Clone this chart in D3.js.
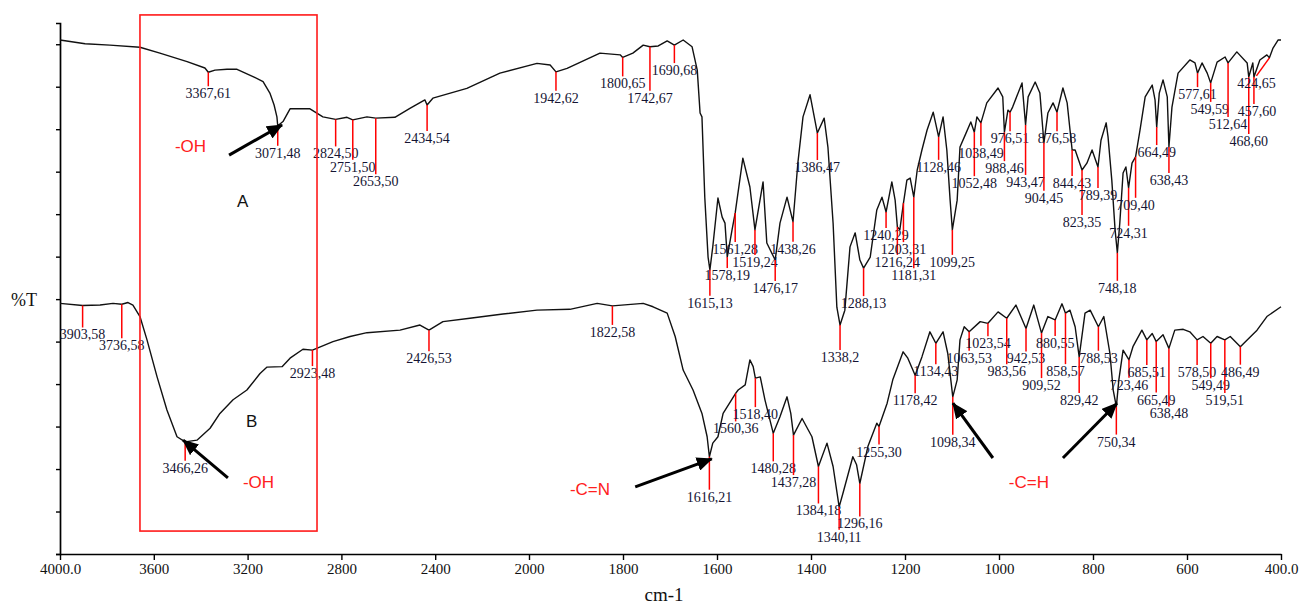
<html>
<head>
<meta charset="utf-8">
<style>
  body { margin: 0; background: #fff; }
  svg text { font-family: "Liberation Serif", "Times New Roman", serif; }
</style>
</head>
<body>
<script src="https://d3js.org/d3.v7.min.js"></script>
<div id="chart"></div>
<script>

// spectrum A : wavenumber (cm-1) and %T readings
var wavenumA = [4000, 3893, 3787, 3659, 3574, 3458, 3382, 3367.61, 3339, 3288,
  3245, 3177, 3134, 3105, 3087, 3075, 3071.48, 3049, 3019, 2934,
  2879, 2824.5, 2776, 2751.5, 2691, 2653.5, 2572, 2508, 2444, 2434.54,
  2410, 2265, 2124, 1983, 1955, 1942.62, 1919, 1849, 1806, 1800.65,
  1779, 1757, 1742.67, 1725, 1706, 1690.68, 1672, 1653, 1642, 1636,
  1632, 1626, 1619, 1615.13, 1609, 1598, 1589, 1583, 1578.19, 1568,
  1561.28, 1545, 1530, 1519.24, 1502, 1494, 1476.17, 1466, 1451, 1438.26,
  1428, 1417, 1402, 1386.47, 1372, 1364, 1353, 1345, 1338.2, 1328,
  1317, 1306, 1296, 1288.13, 1274, 1260, 1249, 1240.29, 1228, 1221,
  1216.24, 1211, 1203.31, 1196, 1189, 1181.31, 1174, 1164, 1153, 1140,
  1128.46, 1119, 1111, 1104, 1099.25, 1089, 1083, 1072, 1060, 1052.48,
  1047, 1038.49, 1026, 1002, 992, 988.46, 981, 976.51, 971, 951,
  943.47, 938, 923, 913, 904.45, 896, 885, 876.58, 864, 855,
  844.43, 838, 823.35, 813, 802, 789.39, 783, 772, 768, 760,
  753, 748.18, 743, 736, 730, 724.31, 717, 709.4, 700, 689,
  674, 668, 664.49, 659, 651, 642, 638.43, 632, 619, 594,
  583, 577.61, 568, 557, 549.59, 536, 519, 512.64, 494, 472,
  468.6, 460, 457.6, 445, 430, 424.65, 417, 406, 400];
var transA = [121.0, 120.1, 119.8, 119.3, 117.9, 115.9, 114.4, 113.4, 113.9, 114.1,
  114.1, 112.4, 111.2, 108.5, 105.7, 102.9, 100.8, 101.8, 104.8, 104.8,
  102.9, 102.3, 102.8, 102.2, 102.9, 102.6, 102.8, 104.9, 106.9, 105.7,
  107.3, 109.6, 113.2, 115.5, 115.1, 113.5, 114.3, 117.9, 117.5, 116.9,
  117.9, 119.8, 119.4, 119.6, 120.8, 119.8, 121.0, 119.4, 113.9, 103.8,
  102.9, 84.0, 69.9, 66.9, 72.3, 83.8, 79.3, 77.9, 69.9, 76.3,
  80.3, 93.2, 86.4, 76.3, 87.6, 73.2, 69.2, 77.9, 84.0, 78.2,
  92.0, 102.9, 108.1, 99.1, 102.6, 95.8, 77.9, 58.1, 53.9, 57.4,
  72.3, 75.6, 69.2, 67.3, 69.9, 81.0, 84.0, 80.5, 87.6, 83.3,
  77.0, 76.3, 82.6, 88.0, 88.5, 84.0, 90.4, 95.1, 99.8, 104.0,
  98.2, 102.9, 95.1, 83.3, 76.3, 83.3, 95.8, 98.6, 101.7, 99.3,
  102.9, 101.5, 106.2, 109.7, 107.6, 99.3, 104.5, 104.0, 105.2, 110.9,
  101.0, 107.6, 111.1, 108.5, 96.8, 103.8, 106.2, 104.0, 109.7, 106.2,
  95.1, 95.1, 90.4, 92.0, 95.1, 91.1, 97.4, 101.5, 98.2, 88.0,
  76.3, 70.9, 77.9, 89.7, 91.1, 86.2, 92.0, 93.5, 99.8, 107.6,
  110.4, 106.9, 100.5, 108.5, 111.6, 107.6, 95.8, 105.2, 113.2, 116.3,
  115.6, 113.2, 115.6, 113.2, 110.9, 115.8, 117.0, 115.6, 118.2, 115.6,
  112.3, 115.6, 112.3, 116.3, 117.5, 116.8, 119.1, 121.0, 121.0];

// spectrum B
var wavenumB = [4000, 3903.58, 3829, 3774, 3736.58, 3710, 3689, 3659, 3629, 3586,
  3544, 3501, 3466.26, 3416, 3360, 3318, 3262, 3203, 3147, 3117,
  3053, 3019, 2964, 2923.48, 2836, 2763, 2691, 2550, 2465, 2426.53,
  2367, 2252, 2111, 1983, 1913, 1855, 1822.58, 1757, 1736, 1706,
  1689, 1672, 1651, 1632, 1621, 1616.21, 1609, 1598, 1587, 1560.36,
  1555, 1540, 1530, 1523, 1518.4, 1508, 1498, 1480.28, 1466, 1451,
  1443, 1437.28, 1419, 1398, 1384.18, 1366, 1353, 1340.11, 1332, 1311,
  1303, 1296.16, 1279, 1260, 1255.3, 1238, 1226, 1204, 1194, 1178.42,
  1164, 1147, 1134.43, 1119, 1109, 1098.34, 1089, 1083, 1074, 1063.53,
  1040, 1023.54, 1002, 983.56, 964, 942.53, 926, 909.52, 896, 880.55,
  866, 858.57, 849, 838, 829.42, 817, 806, 788.53, 777, 764,
  757, 750.34, 745, 736, 723.46, 715, 696, 685.51, 674, 665.49,
  651, 638.48, 626, 608, 594, 578.5, 566, 549.49, 536, 519.51,
  508, 486.49, 472, 451, 430, 400];
var transB = [59.0, 58.5, 58.6, 59.0, 58.8, 59.2, 58.6, 55.9, 50.4, 41.7,
  33.9, 27.6, 26.4, 26.8, 29.6, 33.1, 36.3, 38.6, 42.5, 44.0,
  44.1, 46.1, 48.2, 48.0, 50.0, 51.2, 52.1, 52.7, 53.9, 52.7,
  54.7, 55.5, 56.5, 57.4, 57.6, 59.0, 58.4, 59.0, 58.2, 56.7,
  51.2, 43.3, 38.6, 33.1, 27.6, 22.9, 26.1, 27.6, 33.1, 37.8,
  38.6, 39.8, 45.7, 44.1, 41.4, 41.7, 36.3, 28.4, 32.3, 37.0,
  33.1, 28.0, 31.9, 27.6, 20.6, 26.1, 20.6, 11.1, 14.3, 22.9,
  21.0, 16.6, 25.3, 30.8, 30.0, 35.5, 41.0, 47.6, 46.1, 42.1,
  46.4, 52.3, 49.6, 52.3, 47.2, 37.0, 41.0, 50.4, 53.5, 52.3,
  54.7, 54.3, 57.0, 55.5, 58.6, 53.1, 58.6, 52.0, 55.9, 55.1,
  58.9, 56.7, 57.4, 53.5, 46.4, 56.7, 57.4, 53.5, 55.9, 47.2,
  38.6, 34.7, 41.0, 48.0, 45.7, 48.8, 52.7, 50.4, 51.9, 50.0,
  51.6, 48.4, 52.7, 52.9, 52.3, 50.4, 51.2, 49.6, 51.2, 50.4,
  51.2, 48.8, 50.4, 52.7, 55.9, 58.2];

// labelled peaks
var peaksA = ["3367,61", "3071,48", "2824,50", "2751,50", "2653,50", "2434,54", "1942,62", "1800,65",
  "1742,67", "1690,68", "1615,13", "1578,19", "1561,28", "1519,24", "1476,17", "1438,26", "1386,47",
  "1338,2", "1288,13", "1240,29", "1216,24", "1203,31", "1181,31", "1128,46", "1099,25", "1052,48",
  "1038,49", "988,46", "976,51", "943,47", "904,45", "876,58", "844,43", "823,35", "789,39", "748,18",
  "724,31", "709,40", "664,49", "638,43", "577,61", "549,59", "512,64", "468,60", "457,60", "424,65"];
var peaksB = ["3903,58", "3736,58", "3466,26", "2923,48", "2426,53", "1822,58", "1616,21", "1560,36",
  "1518,40", "1480,28", "1437,28", "1384,18", "1340,11", "1296,16", "1255,30", "1178,42", "1134,43",
  "1098,34", "1063,53", "1023,54", "983,56", "942,53", "909,52", "880,55", "858,57", "829,42",
  "788,53", "750,34", "723,46", "685,51", "665,49", "638,48", "578,50", "549,49", "519,51", "486,49"];

// length of the red marker under each peak (px), so labels stagger
var dropA = [14, 20, 27, 40, 56, 26, 19, 19, 44, 18, 26, 11, 29, 25, 21, 20, 27, 25, 28, 16, 28, 39, 71,
  23, 25, 44, 23, 29, 19, 50, 48, 19, 26, 45, 21, 28, 38, 41, 18, 26, 14, 19, 54, 57, 27, 18];
var dropB = [22, 34, 19, 16, 21, 19, 33, 28, 29, 28, 40, 37, 23, 33, 18, 18, 21, 38, 19, 13, 46, 23, 45,
  16, 51, 36, 24, 28, 18, 25, 51, 58, 25, 35, 53, 18];
var leaderShift = {"424,65": -13};
var textShift = {"457,60": 3, "549,59": -1};

var xTicks = [4000, 3600, 3200, 2800, 2400, 2000, 1800, 1600, 1400, 1200, 1000, 800, 600, 400];
var xTickLabels = ["4000.0", "3600", "3200", "2800", "2400", "2000", "1800", "1600", "1400", "1200",
  "1000", "800", "600", "400.0"];

// annotations (wavenumber, %T)
var boxRegion = {w0: 3659, w1: 2904, t0: 126.9, t1: 5.4};
var arrows = [
  {from: [3279, 93.9], to: [3053, 101.0]},
  {from: [3284, 17.9], to: [3475, 26.8]},
  {from: [1774, 15.8], to: [1611, 22.4]},
  {from: [1013, 22.6], to: [1098, 35.5]},
  {from: [864, 22.6], to: [749, 35.5]}
];
var notes = [
  {text: "-OH", w: 3510, t: 94.6, red: true},
  {text: "A", w: 3245, t: 81.7, red: false},
  {text: "-OH", w: 3220, t: 15.5, red: true},
  {text: "B", w: 3207, t: 29.9, red: false},
  {text: "-C=N", w: 1913, t: 13.9, red: true},
  {text: "-C=H", w: 979, t: 15.5, red: true}
];

if (wavenumA.length != transA.length || wavenumB.length != transB.length ||
    peaksA.length != dropA.length || peaksB.length != dropB.length) {
  throw new Error("array length mismatch");
}

var width = 1301, height = 608;

var svg = d3.select("#chart")
  .append("svg")
    .attr("width", width)
    .attr("height", height);

// the x axis changes scale at 2000 cm-1
var x = d3.scaleLinear()
  .domain([4000, 2000, 400])
  .range([60, 529, 1281]);
var y = d3.scaleLinear()
  .domain([0, 125])
  .range([554, 23]);

// axes
var xAxis = svg.append("g")
  .attr("transform", "translate(0," + y(0) + ")")
  .call(d3.axisBottom(x)
    .tickValues(xTicks)
    .tickFormat(function(d, i) { return xTickLabels[i]; })
    .tickSize(6)
    .tickSizeOuter(0));
xAxis.select(".domain").attr("stroke-width", 1.7);
xAxis.selectAll(".tick line").attr("stroke-width", 1.4);
xAxis.selectAll("text")
  .style("font-family", "Liberation Serif")
  .style("font-size", "15px")
  .attr("fill", "#111");

var yAxis = svg.append("g")
  .attr("transform", "translate(" + x(4000) + ",0)")
  .call(d3.axisLeft(y)
    .tickValues(d3.range(0, 121, 10))
    .tickFormat("")
    .tickSize(4)
    .tickSizeOuter(4));
yAxis.select(".domain").attr("stroke-width", 1.7);
yAxis.selectAll(".tick line").attr("stroke-width", 1.4);

svg.append("text")
  .attr("x", 11)
  .attr("y", 306)
  .style("font-size", "18px")
  .attr("fill", "#111")
  .text("%T");

svg.append("text")
  .attr("x", 664)
  .attr("y", 601)
  .attr("text-anchor", "middle")
  .style("font-size", "19px")
  .attr("fill", "#111")
  .text("cm-1");

// spectra
function points(ws, ts) {
  return ws.map(function(w, i) { return [w, ts[i]]; });
}
var line = d3.line()
  .x(function(d) { return x(d[0]); })
  .y(function(d) { return y(d[1]); });

[points(wavenumA, transA), points(wavenumB, transB)].forEach(function(pts) {
  svg.append("path")
    .datum(pts)
    .attr("fill", "none")
    .attr("stroke", "#111")
    .attr("stroke-width", 1.4)
    .attr("stroke-linejoin", "round")
    .attr("d", line);
});

// value of a spectrum at a given wavenumber
function valueAt(ws, ts, w) {
  for (var i = 0; i < ws.length - 1; i++) {
    if (w <= ws[i] && w >= ws[i + 1]) {
      var f = (ws[i] - w) / (ws[i] - ws[i + 1]);
      return ts[i] + f * (ts[i + 1] - ts[i]);
    }
  }
  return ts[ts.length - 1];
}

function drawPeaks(labels, drops, ws, ts) {
  labels.forEach(function(lab, i) {
    var w = parseFloat(lab.replace(",", "."));
    var px = x(w), py = y(valueAt(ws, ts, w));
    var dx = leaderShift[lab] || 0;
    svg.append("line")
      .attr("x1", px).attr("y1", py)
      .attr("x2", px + dx).attr("y2", py + drops[i])
      .attr("stroke", "#ff0000")
      .attr("stroke-width", 1.5);
    svg.append("text")
      .attr("x", px + dx + (textShift[lab] || 0))
      .attr("y", py + drops[i] + 12)
      .attr("text-anchor", "middle")
      .style("font-size", "14px")
      .attr("fill", "#141433")
      .text(lab);
  });
}
drawPeaks(peaksA, dropA, wavenumA, transA);
drawPeaks(peaksB, dropB, wavenumB, transB);

// annotations
svg.append("rect")
  .attr("x", x(boxRegion.w0))
  .attr("y", y(boxRegion.t0))
  .attr("width", x(boxRegion.w1) - x(boxRegion.w0))
  .attr("height", y(boxRegion.t1) - y(boxRegion.t0))
  .attr("fill", "none")
  .attr("stroke", "#ff1a1a")
  .attr("stroke-width", 1.6);

svg.append("defs").append("marker")
  .attr("id", "head")
  .attr("markerUnits", "userSpaceOnUse")
  .attr("viewBox", "0 0 16 14")
  .attr("markerWidth", 16)
  .attr("markerHeight", 14)
  .attr("refX", 15)
  .attr("refY", 7)
  .attr("orient", "auto")
  .append("path")
    .attr("d", "M0,0 L16,7 L0,14 Z")
    .attr("fill", "#000");

arrows.forEach(function(a) {
  svg.append("line")
    .attr("x1", x(a.from[0])).attr("y1", y(a.from[1]))
    .attr("x2", x(a.to[0])).attr("y2", y(a.to[1]))
    .attr("stroke", "#000")
    .attr("stroke-width", 3)
    .attr("marker-end", "url(#head)");
});

notes.forEach(function(n) {
  svg.append("text")
    .attr("x", x(n.w))
    .attr("y", y(n.t))
    .style("font-family", "Liberation Sans, Arial, sans-serif")
    .style("font-size", "17px")
    .attr("fill", n.red ? "#ff2020" : "#111")
    .text(n.text);
});

</script>
</body>
</html>
